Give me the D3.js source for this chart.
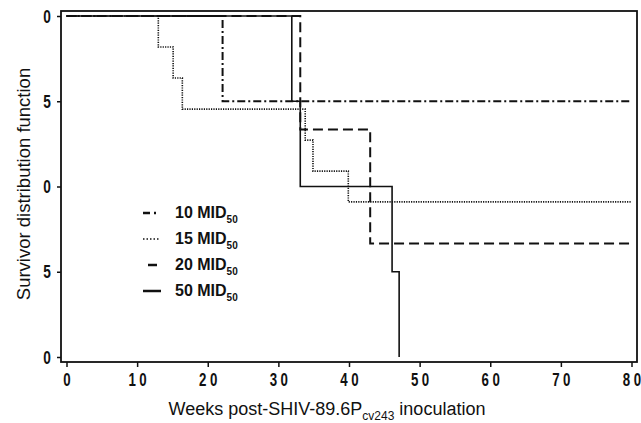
<!DOCTYPE html>
<html>
<head>
<meta charset="utf-8">
<script src="https://cdn.jsdelivr.net/npm/d3@7"></script>
<style>
  body { margin: 0; background: #fff; }
  svg { display: block; }
  .tick line { stroke: #111; stroke-width: 1.5; }
  .x.axis text, .y.axis text {
    font-family: "Liberation Sans Narrow", "Liberation Sans", sans-serif;
    font-weight: bold;
    fill: #111;
  }
  .title { font-family: "Liberation Sans", Arial, sans-serif; fill: #111; }
  .legend text { font-family: "Liberation Sans", Arial, sans-serif; font-weight: bold; fill: #111; }
</style>
</head>
<body>
<div class="chart"></div>
<script>
// Data.
const seriesNames = ['10 MID', '15 MID', '20 MID', '50 MID'];

// Step curves: week of each drop and survival after it.
const weeks10 = [0, 22.1, 80];
const surv10 = [1, 0.75, 0.75];

const weeks15 = [0, 13, 15.1, 16.4, 33.8, 34.9, 39.9, 80];
const surv15 = [1, 0.909, 0.818, 0.727, 0.636, 0.545, 0.455, 0.455];

const weeks20 = [0, 33.1, 43, 80];
const surv20 = [1, 0.667, 0.333, 0.333];

const weeks50 = [0, 31.9, 33.1, 46.1, 47.1];
const surv50 = [1, 0.75, 0.5, 0.25, 0];

const xTicks = [0, 10, 20, 30, 40, 50, 60, 70, 80];
const yTickValues = [1, 0.75, 0.5, 0.25, 0];
const yTickLabels = ['0', '5', '0', '5', '0'];

// Line styles per series.
const styles = [
  {dash: '8,3,2,3', width: 2},
  {dash: '1.2,1.2', width: 1.6},
  {dash: '10,5', width: 2},
  {dash: null, width: 1.6}
];

function toPoints(weeks, surv) {
  return weeks.map((w, i) => ({week: w, surv: surv[i]}));
}

const series = [
  toPoints(weeks10, surv10),
  toPoints(weeks15, surv15),
  toPoints(weeks20, surv20),
  toPoints(weeks50, surv50)
];

function ready() {
  const width = 641;
  const height = 423;
  const frame = {left: 61, right: 637, top: 11, bottom: 362};

  // Scales.
  const xScale = d3.scaleLinear().domain([0, 80]).range([66.5, 631.5]);
  const yScale = d3.scaleLinear().domain([0, 1]).range([357, 16]);

  const svg = d3.select('.chart')
    .append('svg')
    .attr('width', width)
    .attr('height', height);

  // Frame.
  svg.append('rect')
    .attr('x', frame.left)
    .attr('y', frame.top)
    .attr('width', frame.right - frame.left)
    .attr('height', frame.bottom - frame.top)
    .style('fill', 'none')
    .style('stroke', '#111')
    .style('stroke-width', 1.8);

  // Axes.
  const xAxis = d3.axisBottom(xScale)
    .tickValues(xTicks)
    .tickSize(5)
    .tickPadding(6);

  const xAxisDraw = svg.append('g')
    .attr('class', 'x axis')
    .attr('transform', `translate(0,${frame.bottom})`)
    .call(xAxis);
  xAxisDraw.select('.domain').remove();

  // Spaced digits, as in the original print.
  xAxisDraw.selectAll('text')
    .style('font-size', '19px')
    .attr('transform', 'scale(0.7,1)')
    .each(function() {
      const label = d3.select(this);
      const chars = label.text().split('');
      label.text(null);
      chars.forEach((c, i) => {
        label.append('tspan').attr('dx', i === 0 ? 0 : 5).text(c);
      });
    });

  const yAxis = d3.axisLeft(yScale)
    .tickValues(yTickValues)
    .tickFormat((d, i) => yTickLabels[i])
    .tickSize(4)
    .tickPadding(10);

  const yAxisDraw = svg.append('g')
    .attr('class', 'y axis')
    .attr('transform', `translate(${frame.left},0)`)
    .call(yAxis);
  yAxisDraw.select('.domain').remove();
  yAxisDraw.selectAll('text')
    .style('font-size', '19px')
    .attr('transform', 'scale(0.72,1)');

  // Curves.
  const line = d3.line()
    .x(d => xScale(d.week))
    .y(d => yScale(d.surv))
    .curve(d3.curveStepAfter);

  svg.selectAll('.curve')
    .data(series)
    .enter()
    .append('path')
    .attr('class', 'curve')
    .attr('d', d => line(d))
    .style('fill', 'none')
    .style('stroke', '#111')
    .style('stroke-width', (d, i) => styles[i].width)
    .style('stroke-dasharray', (d, i) => styles[i].dash);

  // Legend.
  const legend = svg.append('g').attr('class', 'legend');
  const rowY = d3.scaleBand().domain(seriesNames).range([200, 304]);
  const samples = [[143, 156], [143, 160], [148, 157], [143, 161]];

  const rows = legend.selectAll('g')
    .data(seriesNames)
    .enter()
    .append('g')
    .attr('transform', d => `translate(0,${rowY(d) + rowY.bandwidth() / 2})`);

  rows.append('line')
    .attr('x1', (d, i) => samples[i][0])
    .attr('x2', (d, i) => samples[i][1])
    .attr('y1', 0)
    .attr('y2', 0)
    .style('stroke', '#111')
    .style('stroke-width', (d, i) => i === 1 ? 1.6 : 2.5)
    .style('stroke-dasharray', (d, i) => i === 0 ? '7,4,2,3' : (i === 1 ? '1.5,2' : null));

  const labels = rows.append('text')
    .attr('x', 175)
    .attr('y', 5)
    .style('font-size', '16px');
  labels.append('tspan').text(d => d);
  labels.append('tspan')
    .text('50')
    .attr('dy', 5)
    .style('font-size', '10px');

  // Axis titles.
  const xTitle = svg.append('text')
    .attr('class', 'title')
    .attr('x', 327)
    .attr('y', 415)
    .attr('text-anchor', 'middle')
    .style('font-size', '18px');
  xTitle.append('tspan').text('Weeks post-SHIV-89.6P');
  xTitle.append('tspan').text('cv243').attr('dy', 5).style('font-size', '12px');
  xTitle.append('tspan').text(' inoculation').attr('dy', -5);

  svg.append('text')
    .attr('class', 'title')
    .attr('transform', `translate(30,184) rotate(-90)`)
    .attr('text-anchor', 'middle')
    .style('font-size', '18.5px')
    .text('Survivor distribution function');
}

ready();
</script>
</body>
</html>
